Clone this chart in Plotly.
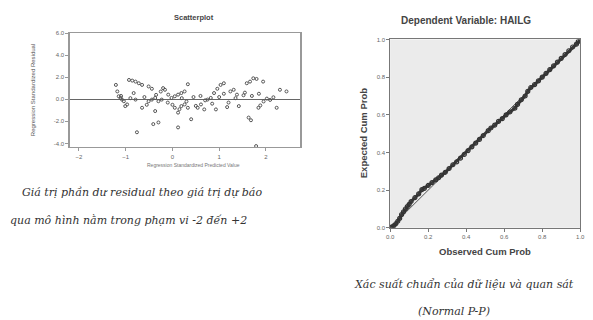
import plotly.graph_objects as go

# ---- Left chart: standardized predicted value vs standardized residual ----
pred = [-1.21, -1.18, -1.15, -1.11, -1.08, -1.04, -1.01, -0.97, -0.93, -0.86,
        -0.79, -0.72, -0.65, -0.51, -0.44, -0.83, -0.79, -0.76, -0.65, -0.51,
        -0.44, -0.37, -0.30, -0.23, -0.37, -0.41, -0.30, -0.20, -0.16, -0.09,
        -0.02, 0.05, 0.12, 0.19, 0.26, 0.33, 0.05, 0.12, 0.19, 0.26,
        0.33, 0.40, 0.12, 0.54, 0.61, 0.68, 0.75, 0.82, 0.89, 0.96,
        1.03, 1.10, 0.93, 1.17, 1.24, 1.31, 1.38, 1.42, 1.52, 1.59,
        1.66, 1.73, 1.80, 1.94, 1.63, 1.68, 1.79, 1.84, 1.88, 2.02,
        2.09, 2.16, 2.23, 2.30, 2.44,
        -1.10, -0.90, -0.60, -0.35, -0.10, 0.00, 0.15, 0.30, 0.45, 0.60,
        0.70, 0.85, 1.00, 1.20, 1.35, 1.55, 1.70, 1.85, 1.95, -0.55,
        -0.25, 0.20, 0.50, 1.10]
resid = [1.30, 0.71, 0.27, 0.12, -0.03, -0.18, -0.62, -0.47, 1.75, 1.69,
         1.60, 1.45, 1.30, 1.16, 0.95, 0.56, -0.03, -2.99, -0.77, -0.18,
         -0.03, 0.12, -0.18, -0.03, -1.07, -2.25, -2.10, 1.01, 0.86, 0.42,
         0.12, 0.27, 0.42, 0.56, 0.71, 1.36, -0.77, -1.21, -0.62, -0.47,
         -0.77, -1.81, -2.55, -0.77, -0.47, -0.92, -0.03, 0.12, 0.56, 0.95,
         1.30, 1.45, -0.92, -0.71, 0.71, 0.86, 0.42, -0.62, 0.36, 1.45,
         1.60, 1.90, 1.84, 1.60, -1.66, -1.90, -4.24, -0.77, -0.56, 0.06,
         -0.06, 0.18, -0.77, 0.86, 0.71,
         0.30, 0.10, 0.20, 0.40, -0.30, -0.50, -0.90, -0.20, 0.20, 0.30,
         -0.10, -0.40, 0.20, -0.30, 0.10, 0.60, 0.30, 0.50, -0.20, -0.50,
         0.70, 0.10, -0.60, 0.50]
left_xticks = [-2, -1, 0, 1, 2]
left_yticks = [6, 4, 2, 0, -2, -4]
left_ytick_text = ["6.0", "4.0", "2.0", "0.0", "-2.0", "-4.0"]

# ---- Right chart: Normal P-P plot ----
obs_cum = [0.00, 0.01, 0.02, 0.03, 0.04, 0.05, 0.06, 0.07, 0.08, 0.09,
           0.10, 0.11, 0.13, 0.15, 0.167, 0.18, 0.20, 0.22, 0.24, 0.255,
           0.27, 0.29, 0.31, 0.33, 0.35, 0.37, 0.39, 0.41, 0.43, 0.45,
           0.47, 0.49, 0.516, 0.53, 0.55, 0.57, 0.59, 0.61, 0.63, 0.656,
           0.67, 0.69, 0.71, 0.724, 0.74, 0.76, 0.78, 0.80, 0.82, 0.84,
           0.86, 0.88, 0.90, 0.92, 0.94, 0.96, 0.98, 0.99, 1.00]
exp_cum = [0.003, 0.006, 0.012, 0.022, 0.035, 0.05, 0.07, 0.085, 0.10, 0.113,
           0.125, 0.14, 0.16, 0.18, 0.203, 0.21, 0.225, 0.24, 0.255, 0.266,
           0.28, 0.295, 0.315, 0.335, 0.35, 0.37, 0.39, 0.41, 0.43, 0.45,
           0.47, 0.49, 0.516, 0.53, 0.545, 0.565, 0.58, 0.60, 0.615, 0.635,
           0.655, 0.68, 0.70, 0.724, 0.745, 0.76, 0.78, 0.80, 0.82, 0.84,
           0.86, 0.88, 0.90, 0.92, 0.94, 0.96, 0.975, 0.99, 0.995]
pp_ticks = [0.0, 0.2, 0.4, 0.6, 0.8, 1.0]
pp_tick_text = ["0.0", "0.2", "0.4", "0.6", "0.8", "1.0"]
ref_line = [0.0, 1.0]

W, H = 593, 320
OFF = 8  # page body margin offset
def px(x):
    return (x - OFF) / W
def py(y):
    return 1 - (y - OFF) / H

fig = go.Figure()

fig.add_trace(go.Scatter(
    x=pred, y=resid, mode="markers", xaxis="x", yaxis="y",
    marker=dict(symbol="circle-open", size=3, color="#555", line=dict(width=1)),
    showlegend=False, hoverinfo="skip"))

fig.add_trace(go.Scatter(
    x=ref_line, y=ref_line, mode="lines", xaxis="x2", yaxis="y2",
    line=dict(color="#555", width=1), showlegend=False, hoverinfo="skip"))
fig.add_trace(go.Scatter(
    x=obs_cum, y=exp_cum, mode="lines+markers", xaxis="x2", yaxis="y2",
    line=dict(color="#3a3a3a", width=3),
    marker=dict(symbol="circle-open", size=4, color="#333", line=dict(width=1.2)),
    showlegend=False, hoverinfo="skip"))

tickfont = dict(family="Liberation Sans", size=6, color="#666")

fig.update_layout(
    width=W, height=H,
    margin=dict(l=0, r=0, t=0, b=0),
    paper_bgcolor="white",
    plot_bgcolor="white",
    xaxis=dict(domain=[px(67), px(300)], range=[-2.19, 2.72], anchor="y",
               tickvals=left_xticks, ticks="outside", ticklen=3, tickcolor="#999",
               showgrid=False, zeroline=False, showline=True, mirror=True,
               linecolor="#999", linewidth=1, tickfont=tickfont),
    yaxis=dict(domain=[py(147), py(30)], range=[-4.36, 6.04], anchor="x",
               tickvals=left_yticks, ticktext=left_ytick_text, ticks="outside",
               ticklen=3, tickcolor="#999",
               showgrid=False, zeroline=True, zerolinecolor="#666", zerolinewidth=1.2,
               showline=True, mirror=True, linecolor="#999", linewidth=1.5,
               tickfont=tickfont),
    xaxis2=dict(domain=[px(392), px(585)], range=[0, 1], anchor="y2",
                tickvals=pp_ticks, ticktext=pp_tick_text, ticks="outside",
                ticklen=3, tickcolor="#777",
                showgrid=False, zeroline=False, showline=True, mirror=True,
                linecolor="#777", linewidth=1, tickfont=tickfont),
    yaxis2=dict(domain=[py(229), py(37)], range=[0, 1], anchor="x2",
                tickvals=pp_ticks, ticktext=pp_tick_text, ticks="outside",
                ticklen=3, tickcolor="#777",
                showgrid=False, zeroline=False, showline=True, mirror=True,
                linecolor="#777", linewidth=1, tickfont=tickfont),
)

# right plot gray background
fig.add_shape(type="rect", xref="x2 domain", yref="y2 domain", x0=0, y0=0, x1=1, y1=1,
              fillcolor="#ebebeb", line=dict(width=0), layer="below")

ann = []
ann.append(dict(text="<b>Scatterplot</b>", x=px(193), y=py(15),
                font=dict(family="Liberation Sans", size=7.5, color="#444")))
ann.append(dict(text="Regression Standardized Residual", x=px(30), y=py(89),
                textangle=-90, font=dict(family="Liberation Sans", size=6, color="#555")))
ann.append(dict(text="Regression Standardized Predicted Value", x=px(192), y=py(165),
                font=dict(family="Liberation Sans", size=5, color="#777")))
ann.append(dict(text="<b>Dependent Variable: HAILG</b>", x=px(469), y=py(18),
                font=dict(family="Liberation Sans", size=10, color="#444")))
ann.append(dict(text="<b>Expected Cum Prob</b>", x=px(365), y=py(133), textangle=-90,
                font=dict(family="Liberation Sans", size=9.5, color="#444")))
ann.append(dict(text="<b>Observed Cum Prob</b>", x=px(488), y=py(253),
                font=dict(family="Liberation Sans", size=9.5, color="#444")))

capfont = dict(family="DejaVu Serif", size=11, color="#333")
ann.append(dict(text="<i>Giá trị phần dư residual theo giá trị dự báo</i>",
                x=px(16), y=py(193), xanchor="left", font=capfont))
ann.append(dict(text="<i>qua mô hình nằm trong phạm vi -2 đến +2</i>",
                x=px(4), y=py(222), xanchor="left", font=capfont))
ann.append(dict(text="<i>Xác suất chuẩn của dữ liệu và quan sát</i>",
                x=px(353), y=py(287), xanchor="left", font=capfont))
ann.append(dict(text="<i>(Normal P-P)</i>",
                x=px(457), y=py(314), font=capfont))

for a in ann:
    a.setdefault("xanchor", "center")
    a.update(xref="paper", yref="paper", yanchor="middle", showarrow=False)
fig.update_layout(annotations=ann)

fig.write_html("out.html")
